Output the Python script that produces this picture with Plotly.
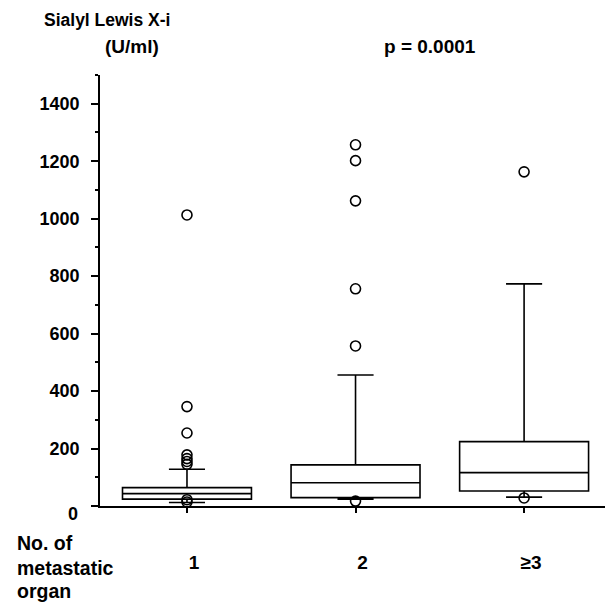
import plotly.graph_objects as go

categories = ["1", "2", "≥3"]
q1 = [24, 29, 52]
median = [43, 81, 116]
q3 = [64, 143, 224]
lower_whisker = [12, 24, 31]
upper_whisker = [128, 456, 773]
outliers = [
    [1013, 346, 254, 178, 165, 155, 145, 22, 14],
    [1257, 1202, 1062, 756, 557, 17],
    [1163, 28],
]
y_ticks = [0, 200, 400, 600, 800, 1000, 1200, 1400]
y_ticktext = ["", "200", "400", "600", "800", "1000", "1200", "1400"]

FONT = "Liberation Sans"
W, H = 605, 603
ML, MR, MT, MB = 100, 0, 75, 97

fig = go.Figure()
xpos = list(range(len(categories)))
fig.add_trace(go.Box(
    x=xpos, q1=q1, median=median, q3=q3,
    lowerfence=lower_whisker, upperfence=upper_whisker,
    fillcolor="white", line=dict(color="black", width=1.6),
    whiskerwidth=0.28, width=0.765, boxpoints=False, showlegend=False,
))
ox, oy = [], []
for i, vals in enumerate(outliers):
    for v in vals:
        ox.append(i)
        oy.append(v)
fig.add_trace(go.Scatter(
    x=ox, y=oy, mode="markers", showlegend=False,
    marker=dict(symbol="circle-open", size=10, color="black", line=dict(width=1.6)),
))

fig.update_layout(
    width=W, height=H, plot_bgcolor="white", paper_bgcolor="white",
    margin=dict(l=ML, r=MR, t=MT, b=MB),
    font=dict(family=FONT, size=18, color="black", weight="bold"),
)
fig.update_xaxes(
    range=[-0.516, 2.48], tickvals=xpos, ticktext=categories,
    tickfont=dict(size=19),
    showline=True, linecolor="black", linewidth=1.6, showgrid=False, zeroline=False,
    ticks="outside", ticklen=5, tickcolor="black", tickwidth=1.5,
    ticklabelstandoff=33, ticklabelshift=7,
)
fig.update_yaxes(
    range=[0, 1500], tickvals=y_ticks, ticktext=y_ticktext,
    tickfont=dict(size=18),
    showline=True, linecolor="black", linewidth=1.6, showgrid=False, zeroline=False,
    ticks="outside", ticklen=7, tickcolor="black", tickwidth=1.5, ticklabelstandoff=8,
    minor=dict(dtick=100, ticks="outside", ticklen=3, tickcolor="black", tickwidth=1.5, showgrid=False),
)

pw, ph = W - ML - MR, H - MT - MB
anns = [
    dict(text="Sialyl Lewis X-i", x=42, y=20, size=17.5, anchor="left"),
    dict(text="(U/ml)", x=103, y=46, size=19, anchor="left"),
    dict(text="p = 0.0001", x=382, y=46, size=19, anchor="left"),
    dict(text="0", x=80, y=514, size=18, anchor="right"),
    dict(text="No. of", x=15, y=543, size=19.5, anchor="left"),
    dict(text="metastatic", x=15, y=568, size=19.5, anchor="left"),
    dict(text="organ", x=15, y=591, size=19.5, anchor="left"),
]
for a in anns:
    fig.add_annotation(
        text=a["text"], xref="paper", yref="paper",
        x=(a["x"] - ML) / pw, y=1 - (a["y"] - MT) / ph,
        xanchor=a["anchor"], yanchor="middle", showarrow=False,
        font=dict(family=FONT, size=a["size"], color="black", weight="bold"),
    )
fig.write_html(
    "out.html",
    config={"displayModeBar": False},
    post_script="document.body.style.margin='0';document.body.style.overflow='hidden';",
)
